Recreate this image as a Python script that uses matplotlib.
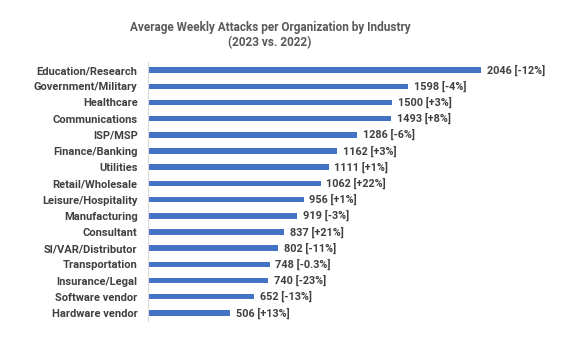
import matplotlib.pyplot as plt

industries = ['Education/Research', 'Government/Military', 'Healthcare', 'Communications',
              'ISP/MSP', 'Finance/Banking', 'Utilities', 'Retail/Wholesale',
              'Leisure/Hospitality', 'Manufacturing', 'Consultant', 'SI/VAR/Distributor',
              'Transportation', 'Insurance/Legal', 'Software vendor', 'Hardware vendor']
attacks = [2046, 1598, 1500, 1493, 1286, 1162, 1111, 1062, 956, 919, 837, 802, 748, 740, 652, 506]
change = ['-12%', '-4%', '+3%', '+8%', '-6%', '+3%', '+1%', '+22%',
          '+1%', '-3%', '+21%', '-11%', '-0.3%', '-23%', '-13%', '+13%']

plt.rcParams['font.family'] = ['Roboto', 'DejaVu Sans']

fig = plt.figure(figsize=(5.72, 3.38), dpi=100)
ax = fig.add_axes([0.2587, 0.0503, 0.69, 0.7663])

ypos = list(range(len(industries)))
ax.barh(ypos, attacks, height=0.34, color='#4472C4')
for y, v, c in zip(ypos, attacks, change):
    ax.text(v + 35, y, f'{v} [{c}]', va='center', ha='left',
            fontsize=7.8, fontweight='bold', color='#404040')

ax.set_yticks(ypos)
ax.set_yticklabels(industries, fontsize=8, fontweight='bold', color='#404040')
ax.set_ylim(len(industries) - 0.5, -0.5)
ax.set_xlim(0, 2426)
ax.set_xticks([])
ax.tick_params(axis='y', length=0, pad=7.5)
for s in ['top', 'right', 'bottom']:
    ax.spines[s].set_visible(False)
ax.spines['left'].set_color('#D9D9D9')
ax.spines['left'].set_linewidth(0.8)

fig.text(0.472, 0.896, 'Average Weekly Attacks per Organization by Industry\n(2023 vs. 2022)',
         ha='center', va='center', fontsize=8.5, fontweight='bold', color='#595959',
         linespacing=1.15)

fig.savefig('out.png', dpi=100)
